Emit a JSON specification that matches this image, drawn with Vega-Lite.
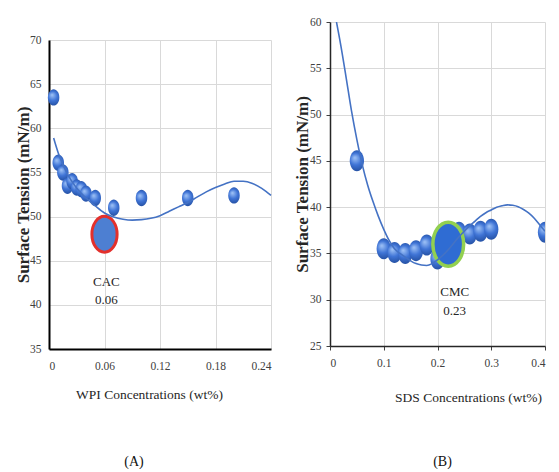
{
  "$schema": "https://vega.github.io/schema/vega-lite/v6.json",
  "background": "white",
  "padding": {"left": 14, "top": 16, "right": 0, "bottom": 0},
  "spacing": 18,
  "config": {
    "view": {"stroke": null},
    "axis": {
      "labelFont": "Liberation Serif",
      "labelFontSize": 11.5,
      "labelColor": "#404040",
      "titleFont": "Liberation Serif",
      "titleColor": "#262626",
      "gridColor": "#d9d9d9",
      "gridWidth": 1
    },
    "title": {"font": "Liberation Serif", "fontSize": 14, "fontWeight": "normal", "color": "#111111"}
  },
  "datasets": {
    "wpi": [
      {"conc": 0.005, "st": 63.5},
      {"conc": 0.01, "st": 56.1},
      {"conc": 0.015, "st": 55.0},
      {"conc": 0.02, "st": 53.5},
      {"conc": 0.025, "st": 54.0},
      {"conc": 0.03, "st": 53.3},
      {"conc": 0.035, "st": 53.1},
      {"conc": 0.04, "st": 52.6},
      {"conc": 0.05, "st": 52.1},
      {"conc": 0.07, "st": 51.0},
      {"conc": 0.1, "st": 52.1},
      {"conc": 0.15, "st": 52.1},
      {"conc": 0.2, "st": 52.4}
    ],
    "wpiCac": [{"conc": 0.06, "st": 48.0}],
    "wpiFit": [
      {"conc": 0.005, "st": 58.9},
      {"conc": 0.01, "st": 57.2},
      {"conc": 0.015, "st": 55.9},
      {"conc": 0.02, "st": 54.8},
      {"conc": 0.03, "st": 53.2},
      {"conc": 0.04, "st": 52.1},
      {"conc": 0.05, "st": 51.2},
      {"conc": 0.06, "st": 50.4},
      {"conc": 0.07, "st": 49.95},
      {"conc": 0.08, "st": 49.7},
      {"conc": 0.09, "st": 49.6},
      {"conc": 0.1, "st": 49.65},
      {"conc": 0.11, "st": 49.8},
      {"conc": 0.12, "st": 50.1},
      {"conc": 0.13, "st": 50.6},
      {"conc": 0.14, "st": 51.1},
      {"conc": 0.15, "st": 51.6},
      {"conc": 0.16, "st": 52.2},
      {"conc": 0.17, "st": 52.8},
      {"conc": 0.18, "st": 53.3},
      {"conc": 0.19, "st": 53.7},
      {"conc": 0.2, "st": 54.0},
      {"conc": 0.21, "st": 54.0},
      {"conc": 0.22, "st": 53.75},
      {"conc": 0.23, "st": 53.2},
      {"conc": 0.24, "st": 52.4}
    ],
    "wpiNotes": [
      {"conc": 0.062, "st": 42.6, "label": "CAC"},
      {"conc": 0.062, "st": 40.5, "label": "0.06"}
    ],
    "sds": [
      {"conc": 0.05, "st": 45.0},
      {"conc": 0.1, "st": 35.5},
      {"conc": 0.12, "st": 35.1},
      {"conc": 0.14, "st": 35.0},
      {"conc": 0.16, "st": 35.3},
      {"conc": 0.18, "st": 35.9},
      {"conc": 0.2, "st": 34.4},
      {"conc": 0.24, "st": 37.3},
      {"conc": 0.26, "st": 37.1},
      {"conc": 0.28, "st": 37.4},
      {"conc": 0.3, "st": 37.6},
      {"conc": 0.4, "st": 37.3}
    ],
    "sdsCmc": [{"conc": 0.22, "st": 36.0}],
    "sdsFit": [
      {"conc": 0.012, "st": 60.0},
      {"conc": 0.02, "st": 57.5},
      {"conc": 0.03, "st": 54.0},
      {"conc": 0.04, "st": 50.4},
      {"conc": 0.05, "st": 47.3},
      {"conc": 0.06, "st": 44.6},
      {"conc": 0.07, "st": 42.4},
      {"conc": 0.08, "st": 40.6},
      {"conc": 0.09, "st": 39.0},
      {"conc": 0.1, "st": 37.6},
      {"conc": 0.11, "st": 36.4},
      {"conc": 0.12, "st": 35.5},
      {"conc": 0.13, "st": 35.0},
      {"conc": 0.14, "st": 34.6},
      {"conc": 0.15, "st": 34.2},
      {"conc": 0.16, "st": 33.9},
      {"conc": 0.17, "st": 33.75},
      {"conc": 0.18, "st": 33.7},
      {"conc": 0.19, "st": 33.9},
      {"conc": 0.2, "st": 34.3},
      {"conc": 0.21, "st": 34.8},
      {"conc": 0.22, "st": 35.4},
      {"conc": 0.23, "st": 36.1},
      {"conc": 0.24, "st": 36.8},
      {"conc": 0.25, "st": 37.4},
      {"conc": 0.26, "st": 38.0},
      {"conc": 0.27, "st": 38.5},
      {"conc": 0.28, "st": 39.0},
      {"conc": 0.29, "st": 39.4},
      {"conc": 0.3, "st": 39.7},
      {"conc": 0.31, "st": 40.0},
      {"conc": 0.32, "st": 40.15},
      {"conc": 0.33, "st": 40.25},
      {"conc": 0.34, "st": 40.2},
      {"conc": 0.35, "st": 40.05},
      {"conc": 0.36, "st": 39.75},
      {"conc": 0.37, "st": 39.35},
      {"conc": 0.38, "st": 38.8},
      {"conc": 0.39, "st": 38.1},
      {"conc": 0.4, "st": 37.4}
    ],
    "sdsNotes": [
      {"conc": 0.232, "st": 30.8, "label": "CMC"},
      {"conc": 0.232, "st": 28.8, "label": "0.23"}
    ]
  },
  "hconcat": [
    {
      "spacing": 0,
      "vconcat": [
        {
          "width": 222,
          "height": 12,
          "data": {"values": []},
          "mark": "point"
        },
        {
          "width": 222,
          "height": 309,
          "title": {"text": "(A)", "orient": "bottom", "anchor": "middle", "offset": 54, "dx": -26},
          "layer": [
            {
              "data": {"name": "wpi"},
              "mark": {
                "type": "point", "filled": true, "opacity": 1,
                "shape": "M0,-1 A0.7,1 0 1,1 0,1 A0.7,1 0 1,1 0,-1 Z",
                "size": 270,
                "color": {"gradient": "radial", "x1": 0.4, "y1": 0.35, "r1": 0.02, "x2": 0.5, "y2": 0.5, "r2": 0.6,
                  "stops": [{"offset": 0, "color": "#9cc0f5"}, {"offset": 0.45, "color": "#3f74d6"}, {"offset": 1, "color": "#1d4693"}]}
              },
              "encoding": {
                "x": {
                  "field": "conc", "type": "quantitative",
                  "scale": {"domain": [0, 0.24], "nice": false, "zero": false},
                  "axis": {
                    "values": [0, 0.06, 0.12, 0.18, 0.24],
                    "format": "~g",
                    "grid": true, "ticks": false,
                    "domainColor": "#000000", "domainWidth": 2,
                    "labelPadding": 11,
                    "title": "WPI Concentrations (wt%)",
                    "titleFont": "Liberation Serif",
                    "titleFontSize": 13.5, "titleFontWeight": "normal",
                    "titleX": 100, "titleY": 45, "titleAlign": "center", "titleBaseline": "middle"
                  }
                },
                "y": {
                  "field": "st", "type": "quantitative",
                  "scale": {"domain": [35, 70], "nice": false, "zero": false},
                  "axis": {
                    "values": [35, 40, 45, 50, 55, 60, 65, 70],
                    "grid": true, "ticks": false,
                    "domainColor": "#000000", "domainWidth": 2,
                    "labelPadding": 8,
                    "title": "Surface Tension (mN/m)",
                    "titleFont": "Liberation Serif",
                    "titleFontSize": 17, "titleFontWeight": "bold",
                    "titleX": -26, "titleY": 154.5, "titleAlign": "center", "titleBaseline": "middle"
                  }
                }
              }
            },
            {
              "data": {"name": "wpiCac"},
              "mark": {
                "type": "point", "filled": true, "opacity": 1,
                "shape": "M0,-1 A0.7,1 0 1,1 0,1 A0.7,1 0 1,1 0,-1 Z",
                "size": 1296, "fill": "#4d7fd2", "stroke": "#e3302c", "strokeWidth": 3, "strokeOpacity": 1
              },
              "encoding": {
                "x": {"field": "conc", "type": "quantitative"},
                "y": {"field": "st", "type": "quantitative"}
              }
            },
            {
              "data": {"name": "wpiFit"},
              "mark": {"type": "line", "color": "#4472c4", "strokeWidth": 1.6, "interpolate": "monotone"},
              "encoding": {
                "x": {"field": "conc", "type": "quantitative"},
                "y": {"field": "st", "type": "quantitative"}
              }
            },
            {
              "data": {"name": "wpiNotes"},
              "mark": {"type": "text", "font": "Liberation Serif", "fontSize": 13, "color": "#262626", "baseline": "middle"},
              "encoding": {
                "x": {"field": "conc", "type": "quantitative"},
                "y": {"field": "st", "type": "quantitative"},
                "text": {"field": "label"}
              }
            }
          ]
        }
      ]
    },
    {
      "width": 215,
      "height": 324,
      "title": {"text": "(B)", "orient": "bottom", "anchor": "middle", "offset": 51, "dx": 5},
      "layer": [
        {
          "data": {"name": "sds"},
          "mark": {
            "type": "point", "filled": true, "opacity": 1, "clip": true,
            "shape": "M0,-1 A0.68,1 0 1,1 0,1 A0.68,1 0 1,1 0,-1 Z",
            "size": 441,
            "color": {"gradient": "radial", "x1": 0.4, "y1": 0.35, "r1": 0.02, "x2": 0.5, "y2": 0.5, "r2": 0.6,
              "stops": [{"offset": 0, "color": "#9cc0f5"}, {"offset": 0.45, "color": "#3f74d6"}, {"offset": 1, "color": "#1d4693"}]}
          },
          "encoding": {
            "x": {
              "field": "conc", "type": "quantitative",
              "scale": {"domain": [0, 0.4], "nice": false, "zero": false},
              "axis": {
                "values": [0, 0.1, 0.2, 0.3, 0.4],
                "format": "~g",
                "grid": true, "ticks": true, "tickSize": 4, "tickColor": "#404040",
                "domainColor": "#262626", "domainWidth": 1.5,
                "labelPadding": 7,
                "title": "SDS Concentrations (wt%)",
                "titleFont": "Liberation Serif",
                "titleFontSize": 13.5, "titleFontWeight": "normal",
                "titleX": 138, "titleY": 51, "titleAlign": "center", "titleBaseline": "middle"
              }
            },
            "y": {
              "field": "st", "type": "quantitative",
              "scale": {"domain": [25, 60], "nice": false, "zero": false},
              "axis": {
                "values": [25, 30, 35, 40, 45, 50, 55, 60],
                "grid": true, "ticks": true, "tickSize": 4, "tickColor": "#404040",
                "domainColor": "#262626", "domainWidth": 1.5,
                "labelPadding": 5,
                "title": "Surface Tension (mN/m)",
                "titleFont": "Liberation Serif",
                "titleFontSize": 17, "titleFontWeight": "bold",
                "titleX": -28, "titleY": 162, "titleAlign": "center", "titleBaseline": "middle"
              }
            }
          }
        },
        {
          "data": {"name": "sdsCmc"},
          "mark": {
            "type": "point", "filled": true, "opacity": 1,
            "shape": "M0,-1 A0.7,1 0 1,1 0,1 A0.7,1 0 1,1 0,-1 Z",
            "size": 1936, "fill": "#2f6cd3", "stroke": "#92d050", "strokeWidth": 3.5, "strokeOpacity": 1
          },
          "encoding": {
            "x": {"field": "conc", "type": "quantitative"},
            "y": {"field": "st", "type": "quantitative"}
          }
        },
        {
          "data": {"name": "sdsFit"},
          "mark": {"type": "line", "color": "#4472c4", "strokeWidth": 1.6, "interpolate": "monotone", "clip": true},
          "encoding": {
            "x": {"field": "conc", "type": "quantitative"},
            "y": {"field": "st", "type": "quantitative"}
          }
        },
        {
          "data": {"name": "sdsNotes"},
          "mark": {"type": "text", "font": "Liberation Serif", "fontSize": 13, "color": "#262626", "baseline": "middle"},
          "encoding": {
            "x": {"field": "conc", "type": "quantitative"},
            "y": {"field": "st", "type": "quantitative"},
            "text": {"field": "label"}
          }
        }
      ]
    }
  ]
}
